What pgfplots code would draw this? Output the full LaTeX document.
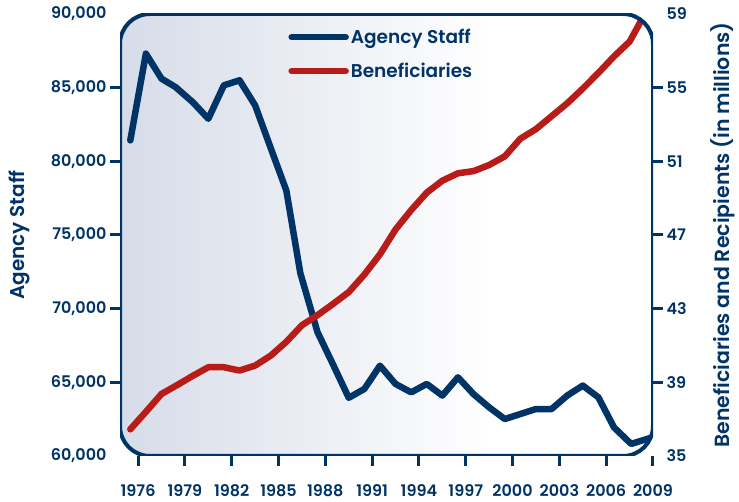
\documentclass[border=0pt]{standalone}
\usepackage{pgfplots}
\pgfplotsset{compat=1.18}
\usepackage{fontspec}
\setmainfont{Poppins}[BoldFont={* SemiBold}]
\definecolor{navy}{RGB}{0,51,102}
\definecolor{dred}{RGB}{183,28,24}
\definecolor{bgl}{RGB}{214,220,232}
\pgfdeclarehorizontalshading{bgshade}{100bp}{color(0bp)=(bgl); color(25bp)=(bgl); color(60bp)=(white); color(100bp)=(white)}

\begin{document}
\begin{tikzpicture}
\useasboundingbox (-120bp,-46bp) rectangle (619bp,456bp);
\pgfplotsset{
  common/.style={
    scale only axis, width=533bp, height=442bp, at={(0,0)}, anchor=south west,
    xmin=1974.84, xmax=2009,
    axis line style={draw=none},
    tick align=outside,
    major tick length=10bp,
    tick style={navy, line width=3bp},
    tick label style={font=\fontsize{16bp}{19bp}\selectfont\bfseries, text=navy},
    /pgf/number format/assume math mode=true,
    label style={text=navy},
  }
}
\begin{axis}[common, ymin=60000, ymax=90000,
  ytick={65000,70000,75000,80000,85000},
  extra y ticks={60000,90000},
  extra y tick style={major tick style={draw=none}},
  ytick pos=left, xtick pos=bottom,
  xtick={1976,1979,...,2009},
  x tick label style={/pgf/number format/1000 sep={}, yshift=-15bp},
  y tick label style={/pgf/number format/1000 sep={,}},
  scaled y ticks=false,
  ylabel={Agency Staff},
  ylabel shift=-6bp,
  ylabel style={font=\fontsize{20bp}{23bp}\selectfont\bfseries},
  axis background/.style={shading=bgshade, rounded corners=30bp},
  ]
\begin{scope}
\clip[rounded corners=30bp] (rel axis cs:0,0) rectangle (rel axis cs:1,1);
\addplot[navy, line width=6.5bp, line join=round, line cap=round] coordinates {
(1975.5,81420) (1976.5,87310) (1977.5,85610) (1978.4,85040) (1979.5,84020)
(1980.5,82890) (1981.5,85160) (1982.5,85500) (1983.5,83800) (1984.5,80900)
(1985.5,78020) (1986.4,72400) (1987.5,68400) (1988.5,66200) (1989.5,63950)
(1990.5,64550) (1991.5,66130) (1992.5,64890) (1993.5,64320) (1994.5,64890)
(1995.5,64100) (1996.5,65340) (1997.5,64200) (1998.5,63300) (1999.5,62510)
(2000.5,62850) (2001.5,63190) (2002.5,63190) (2003.5,64100) (2004.5,64780)
(2005.5,63980) (2006.5,61940) (2007.6,60820) (2008.9,61250)
};
\end{scope}
\end{axis}
\begin{axis}[common, ymin=35, ymax=59,
  axis x line=none, axis y line*=right,
  ytick={39,43,47,51,55},
  extra y ticks={35,59},
  extra y tick style={major tick style={draw=none}},
  ylabel={Beneficiaries and Recipients (in millions)},
  ylabel shift=-3bp,
  ylabel style={font=\fontsize{20.5bp}{23bp}\selectfont\bfseries},
  legend image code/.code={\draw[#1, line cap=round] (0bp,0bp) -- (54bp,0bp);},
  legend cell align=left,
  legend style={at={(0.31,0.975)}, anchor=north west, draw=none, fill=none,
    font=\fontsize{18.5bp}{22bp}\selectfont\bfseries, text=navy, row sep=14bp},
  ]
\addlegendimage{navy, line width=6.5bp}
\addlegendentry{Agency Staff}
\begin{scope}
\clip[rounded corners=30bp] (rel axis cs:0,0) rectangle (rel axis cs:1,1);
\addplot[dred, line width=6.5bp, line join=round, line cap=round] coordinates {
(1975.5,36.45) (1976.5,37.4) (1977.5,38.37) (1978.5,38.85) (1979.5,39.35)
(1980.5,39.82) (1981.5,39.82) (1982.5,39.64) (1983.5,39.91) (1984.5,40.45)
(1985.5,41.2) (1986.5,42.1) (1987.5,42.65) (1988.5,43.26) (1989.5,43.9)
(1990.5,44.85) (1991.5,45.95) (1992.5,47.3) (1993.5,48.35) (1994.5,49.3)
(1995.5,49.95) (1996.5,50.35) (1997.5,50.47) (1998.5,50.8) (1999.5,51.27)
(2000.5,52.23) (2001.5,52.75) (2002.5,53.45) (2003.5,54.15) (2004.5,54.95)
(2005.5,55.8) (2006.5,56.7) (2007.5,57.5) (2008.6,59.2)
};
\end{scope}
\addlegendentry{Beneficiaries}
\draw[navy, line width=4bp, rounded corners=30bp] (rel axis cs:0,0) rectangle (rel axis cs:1,1);
\end{axis}
\end{tikzpicture}
\end{document}
